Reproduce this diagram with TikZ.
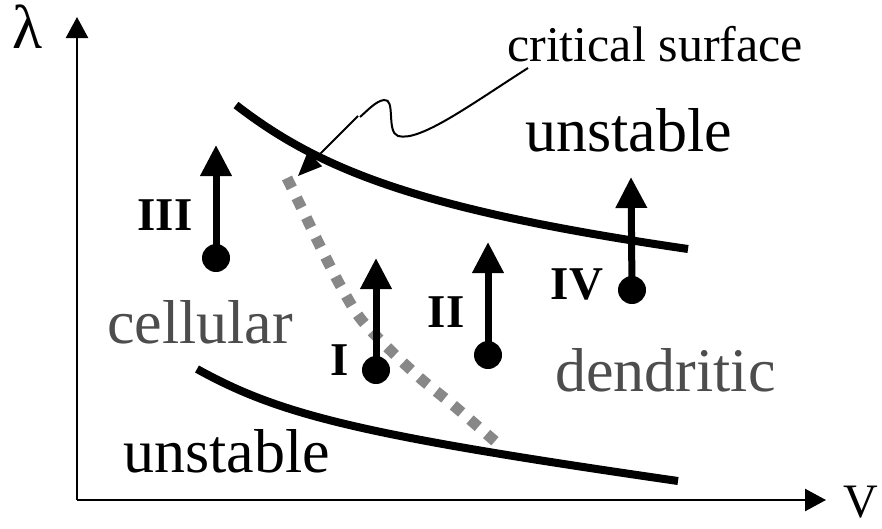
\documentclass[tikz,border=0pt]{standalone}
\usepackage{fontspec}
\setmainfont{Liberation Serif}
\usetikzlibrary{arrows.meta}
\definecolor{dotgray}{HTML}{888888}
\definecolor{txtgray}{HTML}{4D4D4D}
\tikzset{
  axis/.style={line width=2.5pt,-{Triangle[length=21pt,width=22pt]}},
  bigtxt/.style={font=\fontsize{62}{70}\selectfont,inner sep=0pt,anchor=base west},
  graytxt/.style={bigtxt,text=txtgray},
  numeral/.style={font=\fontsize{47}{50}\selectfont\bfseries,inner sep=0pt},
  pt/.style={circle,fill=black,inner sep=0pt,minimum size=28pt},
  uparrow/.style={line width=7pt,-{Triangle[length=31pt,width=30pt]}},
  boundary/.style={line width=8pt},
  critical/.style={line width=11pt,dotgray,dash pattern=on 11pt off 11pt},
  pointer/.style={line width=2pt,-{Triangle[length=24pt,width=20pt]}}
}
\begin{document}
\begin{tikzpicture}[x=1pt,y=-1pt]
\useasboundingbox (0,0) rectangle (882,528);
% axes
\coordinate (O) at (77,500);
\coordinate (ytip) at (77,17);
\coordinate (xtip) at (826,500);
\draw[axis] (O) -- (ytip);
\draw[axis] (O) -- (xtip);
\node[font=\fontsize{62}{70}\selectfont,inner sep=0pt] (lam) at (28,27) {λ};
\node[font=\fontsize{48}{52}\selectfont,inner sep=0pt,anchor=base west] (V) at (843,517) {V};
% boundaries
\coordinate (ua) at (236,105);
\coordinate (ub) at (688,249);
\coordinate (la) at (197,369);
\coordinate (lb) at (678,481);
\draw[boundary] (ua) .. controls (320,170) and (420,210) .. (ub);
\draw[boundary] (la) .. controls (280,415) and (360,435) .. (lb);
% critical surface (dotted)
\draw[critical] plot[smooth] coordinates {(287,178) (305,215) (322,250) (340,285) (360,318) (387,347) (420,378) (453,405) (497,443)};
% points and arrows
\node[pt] (p3) at (216,258) {};
\node[pt] (p1) at (376,370) {};
\node[pt] (p2) at (488,355) {};
\node[pt] (p4) at (632,290) {};
\coordinate (t3) at (216,145);
\coordinate (t1) at (376,258);
\coordinate (t2) at (488,242);
\coordinate (t4) at (631,177);
\draw[uparrow] (p3.center) -- (t3);
\draw[uparrow] (p1.center) -- (t1);
\draw[uparrow] (p2.center) -- (t2);
\draw[uparrow] (p4.center) -- (t4);
\node[numeral] (n3) at (165,215) {III};
\node[numeral] (n1) at (340,360) {I};
\node[numeral] (n2) at (446,312) {II};
\node[numeral] (n4) at (577,284) {IV};
% labels
\node[bigtxt,font=\fontsize{50}{56}\selectfont] (cs) at (507,61) {critical surface};
\node[bigtxt] (u1) at (525,151) {unstable};
\node[graytxt] (cell) at (107,343) {cellular};
\node[bigtxt] (u2) at (123,472) {unstable};
\node[graytxt] (dend) at (555,391) {dendritic};
% pointer
\coordinate (ps) at (528,68);
\coordinate (pe) at (298,176);
\draw[line width=2pt] (ps) .. controls (470,105) and (420,142) .. (398,136)
  .. controls (386,132) and (396,98) .. (384,100)
  .. controls (376,101) and (368,110) .. (360,117);
\coordinate (pk) at (358,116);
\draw[pointer] (pk) -- (pe);
\end{tikzpicture}
\end{document}
